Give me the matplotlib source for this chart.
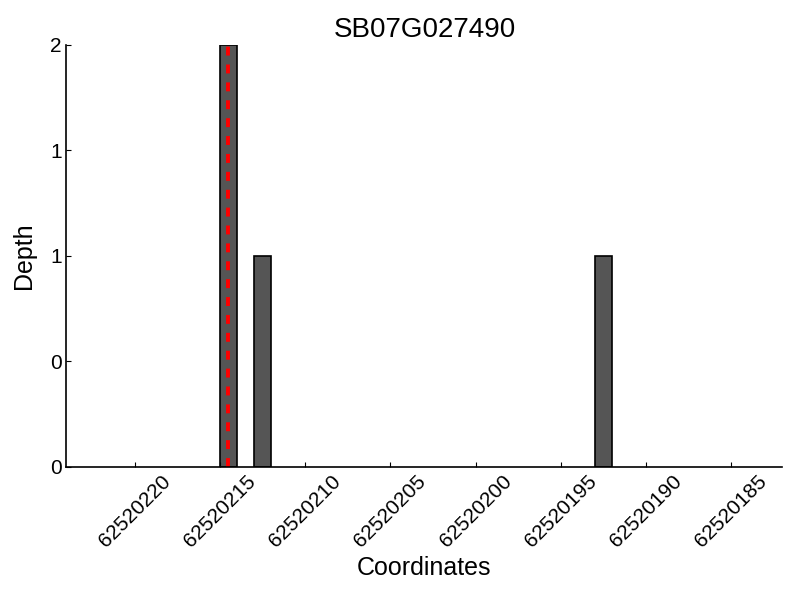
import matplotlib
matplotlib.use("Agg")
import matplotlib.pyplot as plt
from matplotlib.ticker import FormatStrFormatter

plt.rcParams['font.family'] = ['Liberation Sans', 'DejaVu Sans']

# depth per coordinate (bar start, width 1)
coords = [62520214, 62520212, 62520192]
depth = [2, 1, 1]
marker_pos = 62520214.5
xticks = [62520220, 62520215, 62520210, 62520205, 62520200, 62520195, 62520190, 62520185]
yticks = [0, 0.5, 1, 1.5, 2]

fig, ax = plt.subplots(figsize=(8, 6), dpi=100)
fig.subplots_adjust(left=0.083, right=0.978, top=0.925, bottom=0.222)

ax.bar(coords, depth, width=1, align='edge', color='#555555', edgecolor='black', linewidth=1.2)
ax.axvline(marker_pos, color='red', linestyle=(0, (2.3, 2.3)), linewidth=2.8)

ax.set_xlim(62520224, 62520182)
ax.set_ylim(0, 2)
ax.set_xticks(xticks)
ax.set_xticklabels([str(x) for x in xticks], rotation=45)
ax.set_yticks(yticks)
ax.yaxis.set_major_formatter(FormatStrFormatter('%d'))
ax.tick_params(direction='in', labelsize=15)

for s in ['top', 'right']:
    ax.spines[s].set_visible(False)
ax.spines['left'].set_linewidth(1.2)
ax.spines['bottom'].set_linewidth(1.2)

ax.set_title('SB07G027490', fontsize=20)
ax.set_xlabel('Coordinates', fontsize=18)
ax.set_ylabel('Depth', fontsize=18, labelpad=10)

plt.savefig('out.png')
